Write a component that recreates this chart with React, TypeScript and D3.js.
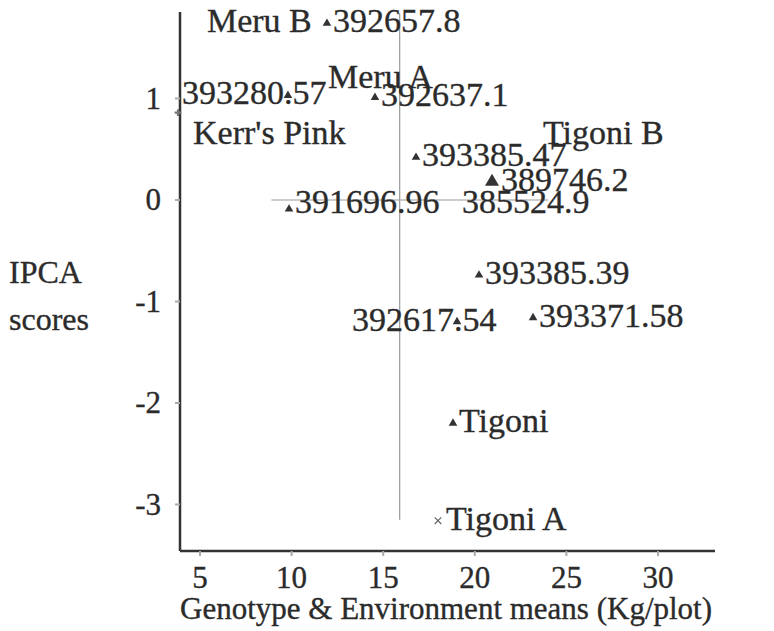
import React from "react";
import * as d3 from "d3";

// ---- data ----
const names = [
  "392657.8", "Meru B", "393280.57", "Meru A", "392637.1", "Kerr's Pink",
  "393385.47", "Tigoni B", "389746.2", "391696.96", "385524.9",
  "393385.39", "392617.54", "393371.58", "Tigoni", "Tigoni A",
];
const means = [
  11.93, 5.38, 9.8, 11.99, 14.55, 3.8,
  16.79, 23.72, 20.94, 9.86, 19.3,
  20.23, 19.03, 23.18, 18.81, 17.99,
];
const ipca = [
  1.74, 1.74, 1.03, 1.19, 1.01, 0.86,
  0.42, 0.67, 0.18, -0.09, -0.03,
  -0.74, -1.2, -1.16, -2.2, -3.16,
];
const markers = [
  "tri", "none", "tri", "none", "tri", "plus",
  "tri", "none", "bigtri", "tri", "none",
  "tri", "tri", "tri", "tri", "cross",
];
const xTicks = [5, 10, 15, 20, 25, 30];
const yTicks = [1, 0, -1, -2, -3];
const grandMean = 15.9;
const hLineRange = [8.9, 24];
const vLineRange = [1.84, -3.15];

// label layout (pixel offsets from point)
const labelDx: Record<string, number> = {
  "393280.57": -106, "392617.54": -105, "Kerr's Pink": 15,
  "Meru B": 0, "Meru A": 0, "Tigoni B": 0, "385524.9": 0, "Tigoni A": 8,
  "389746.2": 9,
};
const labelDy: Record<string, number> = {
  "Kerr's Pink": 31, "391696.96": 4, "385524.9": 10, "Tigoni B": 12,
};

const W = 774, H = 631;
const x = d3.scaleLinear().domain([5, 30]).range([200, 658]);
const y = d3.scaleLinear().domain([0, 1]).range([200, 98.5]);
const axisLeft = 180, axisBottom = 551, axisTop = 12, axisRight = 715;
const ink = "#2b2b2b";
const FONT = "'Liberation Serif', 'Times New Roman', serif";
const LABEL_FS = 34;
const TICK_FS = 31;

function T({ x: tx, y: ty, children, anchor = "start", size = LABEL_FS }: any) {
  return (
    <text x={tx} y={ty} textAnchor={anchor} fontFamily={FONT} fontSize={size} fill={ink}
      stroke={ink} strokeWidth={0.35}>
      {children}
    </text>
  );
}

function Marker({ kind, cx, cy }: { kind: string; cx: number; cy: number }) {
  const tri = d3.symbol().type(d3.symbolTriangle);
  if (kind === "tri") return <path d={tri.size(32)()!} transform={`translate(${cx},${cy})`} fill="#333" />;
  if (kind === "bigtri") return <path d={tri.size(85)()!} transform={`translate(${cx},${cy})`} fill="#333" />;
  if (kind === "cross")
    return <path d={d3.symbol().type(d3.symbolTimes).size(30)()!} transform={`translate(${cx},${cy})`} stroke="#666" strokeWidth={1.2} fill="none" />;
  if (kind === "plus")
    return <path d={d3.symbol().type(d3.symbolCross).size(25)()!} transform={`translate(${cx},${cy})`} fill="#777" />;
  return null;
}

export default function App() {
  return (
    <svg width={W} height={H} style={{ position: "absolute", left: 0, top: 0, background: "#fff" }}>
      <rect width={W} height={H} fill="#fff" />
      {/* reference lines */}
      <line x1={x(grandMean)} x2={x(grandMean)} y1={y(vLineRange[0])} y2={y(vLineRange[1])} stroke="#999" strokeWidth={1.2} />
      <line x1={x(hLineRange[0])} x2={x(hLineRange[1])} y1={y(0)} y2={y(0)} stroke="#999" strokeWidth={1.2} />
      {/* axes */}
      <line x1={axisLeft} x2={axisLeft} y1={axisTop} y2={axisBottom} stroke="#333" strokeWidth={2.5} />
      <line x1={axisLeft} x2={axisRight} y1={axisBottom} y2={axisBottom} stroke="#333" strokeWidth={2.5} />
      {yTicks.map((t) => (
        <g key={"y" + t}>
          <line x1={axisLeft - 5} x2={axisLeft} y1={y(t)} y2={y(t)} stroke="#aaa" strokeWidth={2} />
          <T x={161} y={y(t) + 10} anchor="end" size={TICK_FS}>{String(t)}</T>
        </g>
      ))}
      {xTicks.map((t) => (
        <g key={"x" + t}>
          <line x1={x(t)} x2={x(t)} y1={axisBottom} y2={axisBottom + 5} stroke="#aaa" strokeWidth={2} />
          <T x={x(t)} y={588} anchor="middle" size={TICK_FS}>{String(t)}</T>
        </g>
      ))}
      {/* axis titles */}
      <T x={9} y={283} size={32}>IPCA</T>
      <T x={9} y={330} size={32}>scores</T>
      <T x={180} y={619} size={TICK_FS}>Genotype &amp; Environment means (Kg/plot)</T>
      {/* points */}
      {names.map((n, i) => {
        const px = x(means[i]);
        const py = y(ipca[i]);
        const dx = labelDx[n] ?? 6;
        const dy = labelDy[n] ?? 9;
        return (
          <g key={n}>
            <T x={px + dx} y={py + dy}>{n}</T>
            <Marker kind={markers[i]} cx={px} cy={py} />
          </g>
        );
      })}
    </svg>
  );
}
